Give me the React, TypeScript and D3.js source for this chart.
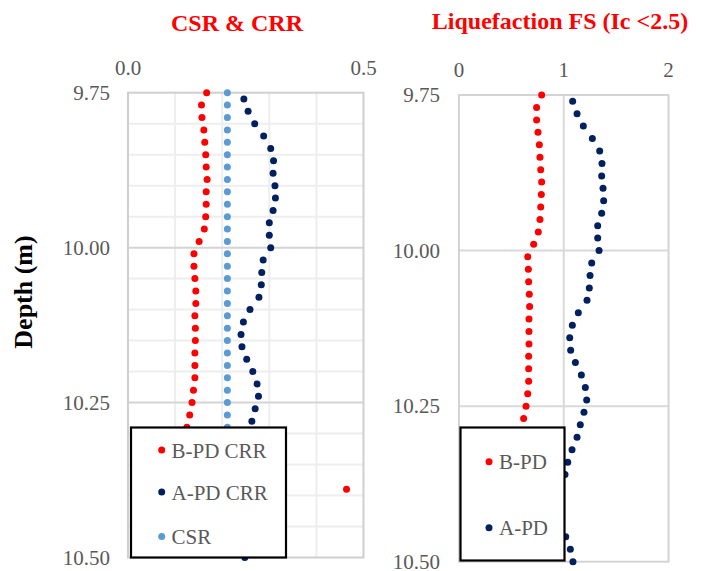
import React from "react";
import * as d3 from "d3";

// ---- CSR & CRR panel data ----
const bpdCrrDepth = [9.75, 9.77, 9.79, 9.81, 9.83, 9.85, 9.87, 9.89, 9.91, 9.93, 9.95, 9.97, 9.99, 10.01, 10.03, 10.05, 10.07, 10.09, 10.11, 10.13, 10.15, 10.17, 10.19, 10.21, 10.23, 10.25, 10.27, 10.29, 10.39];
const bpdCrr = [0.167, 0.156, 0.157, 0.161, 0.163, 0.165, 0.166, 0.168, 0.166, 0.166, 0.165, 0.162, 0.151, 0.140, 0.140, 0.142, 0.144, 0.144, 0.142, 0.143, 0.143, 0.142, 0.142, 0.142, 0.139, 0.136, 0.131, 0.125, 0.464];

const apdCrrDepth = [9.76, 9.78, 9.8, 9.82, 9.84, 9.86, 9.88, 9.9, 9.92, 9.94, 9.96, 9.98, 10.0, 10.02, 10.04, 10.06, 10.08, 10.1, 10.12, 10.14, 10.16, 10.18, 10.2, 10.22, 10.24, 10.26, 10.28, 10.5];
const apdCrr = [0.246, 0.255, 0.269, 0.288, 0.303, 0.309, 0.308, 0.312, 0.313, 0.308, 0.3, 0.3, 0.303, 0.287, 0.284, 0.283, 0.278, 0.259, 0.245, 0.24, 0.242, 0.252, 0.265, 0.274, 0.277, 0.27, 0.263, 0.248];

const csrDepth = [9.75, 9.77, 9.79, 9.81, 9.83, 9.85, 9.87, 9.89, 9.91, 9.93, 9.95, 9.97, 9.99, 10.01, 10.03, 10.05, 10.07, 10.09, 10.11, 10.13, 10.15, 10.17, 10.19, 10.21, 10.23, 10.25, 10.27, 10.29];
const csr = [0.211, 0.211, 0.211, 0.211, 0.211, 0.211, 0.211, 0.211, 0.211, 0.211, 0.211, 0.211, 0.211, 0.211, 0.211, 0.211, 0.211, 0.211, 0.211, 0.211, 0.211, 0.211, 0.211, 0.211, 0.211, 0.211, 0.211, 0.211];

// ---- Liquefaction FS panel data ----
const bpdFsDepth = [9.75, 9.77, 9.79, 9.81, 9.83, 9.85, 9.87, 9.89, 9.91, 9.93, 9.95, 9.97, 9.99, 10.01, 10.03, 10.05, 10.07, 10.09, 10.11, 10.13, 10.15, 10.17, 10.19, 10.21, 10.23, 10.25, 10.27];
const bpdFs = [0.789, 0.741, 0.741, 0.754, 0.767, 0.773, 0.78, 0.789, 0.786, 0.78, 0.773, 0.757, 0.713, 0.656, 0.662, 0.665, 0.671, 0.674, 0.668, 0.668, 0.668, 0.665, 0.665, 0.665, 0.656, 0.64, 0.617];

const apdFsDepth = [9.76, 9.78, 9.8, 9.82, 9.84, 9.86, 9.88, 9.9, 9.92, 9.94, 9.96, 9.98, 10.0, 10.02, 10.04, 10.06, 10.08, 10.1, 10.12, 10.14, 10.16, 10.18, 10.2, 10.22, 10.24, 10.26, 10.28, 10.3, 10.32, 10.34, 10.36, 10.46, 10.48, 10.5];
const apdFs = [1.085, 1.127, 1.187, 1.273, 1.343, 1.365, 1.362, 1.375, 1.381, 1.362, 1.324, 1.324, 1.337, 1.267, 1.251, 1.244, 1.222, 1.139, 1.082, 1.057, 1.066, 1.111, 1.168, 1.206, 1.219, 1.193, 1.158, 1.127, 1.079, 1.038, 1.012, 1.019, 1.063, 1.088];

// ---- axis ticks ----
const depthTicks = [9.75, 10.0, 10.25, 10.5];
const depthMinor = [9.8, 9.85, 9.9, 9.95, 10.05, 10.1, 10.15, 10.2, 10.3, 10.35, 10.4, 10.45];
const crrTicks = [0, 0.5];
const crrMinor = [0.1, 0.2, 0.3, 0.4];
const fsTicks = [0, 1, 2];

const RED = "#ff0000";
const NAVY = "#002060";
const LIGHT = "#5b9bd5";
const LABEL = "#595959";
const FONT = "Liberation Serif, Times New Roman, DejaVu Serif, serif";

function Dots({ xs, ys, x, y, color }: { xs: number[]; ys: number[]; x: d3.ScaleLinear<number, number>; y: d3.ScaleLinear<number, number>; color: string }) {
  return (
    <g>
      {xs.map((v, i) => (
        <circle key={i} cx={x(v)} cy={y(ys[i])} r={3.5} fill={color} />
      ))}
    </g>
  );
}

function T(props: any) {
  const { style, ...rest } = props;
  return <text {...rest} style={{ fontFamily: FONT, ...(style || {}) }} />;
}

export default function App() {
  // left panel scales
  const xL = d3.scaleLinear().domain([0, 0.5]).range([128, 363.5]);
  const yL = d3.scaleLinear().domain([9.75, 10.5]).range([92.7, 557.5]);
  // right panel scales
  const xR = d3.scaleLinear().domain([0, 2]).range([459, 668.5]);
  const yR = d3.scaleLinear().domain([9.75, 10.5]).range([95, 561.7]);

  const fmtDepth = d3.format(".2f");
  const fmtCrr = d3.format(".1f");

  return (
    <svg
      width={705}
      height={571}
      style={{ position: "absolute", left: 0, top: 0, background: "#fff", fontFamily: FONT }}
    >
      <rect width={705} height={571} fill="#fff" />

      {/* titles */}
      <T x={237} y={31} textAnchor="middle" fontSize={24} fontWeight="bold" fill={RED}>CSR &amp; CRR</T>
      <T x={560} y={28.5} textAnchor="middle" fontSize={24} fontWeight="bold" fill={RED}>Liquefaction FS (Ic &lt;2.5)</T>
      <T transform="translate(32,292) rotate(-90)" textAnchor="middle" fontSize={26} fontWeight="bold" fill="#000">Depth (m)</T>

      {/* ---- left panel grid ---- */}
      <g>
        {crrMinor.map((v) => (
          <line key={"cv" + v} x1={xL(v)} x2={xL(v)} y1={yL(9.75)} y2={yL(10.5)} stroke="#eeeeee" strokeWidth={2} />
        ))}
        {depthMinor.map((d) => (
          <line key={"ch" + d} x1={xL(0)} x2={xL(0.5)} y1={yL(d)} y2={yL(d)} stroke="#eeeeee" strokeWidth={2} />
        ))}
        {[10.0, 10.25].map((d) => (
          <line key={"cm" + d} x1={xL(0)} x2={xL(0.5)} y1={yL(d)} y2={yL(d)} stroke="#d4d4d4" strokeWidth={2} />
        ))}
        <rect x={xL(0)} y={yL(9.75)} width={xL(0.5) - xL(0)} height={yL(10.5) - yL(9.75)} fill="none" stroke="#cfcfcf" strokeWidth={2} />
      </g>
      {crrTicks.map((v) => (
        <T key={"ct" + v} x={xL(v)} y={75} textAnchor="middle" fontSize={21} fill={LABEL}>{fmtCrr(v)}</T>
      ))}
      {depthTicks.map((d) => (
        <T key={"cd" + d} x={110} y={yL(d) + 7} textAnchor="end" fontSize={21} fill={LABEL}>{fmtDepth(d)}</T>
      ))}

      <Dots xs={csr} ys={csrDepth} x={xL} y={yL} color={LIGHT} />
      <Dots xs={apdCrr} ys={apdCrrDepth} x={xL} y={yL} color={NAVY} />
      <Dots xs={bpdCrr} ys={bpdCrrDepth} x={xL} y={yL} color={RED} />

      {/* left legend */}
      <g>
        <rect x={131} y={427.5} width={155} height={130} fill="#fff" stroke="#000" strokeWidth={2.2} />
        {[
          { label: "B-PD CRR", color: RED, cy: 450 },
          { label: "A-PD CRR", color: NAVY, cy: 492 },
          { label: "CSR", color: LIGHT, cy: 536.5 },
        ].map((e) => (
          <g key={e.label}>
            <circle cx={161.7} cy={e.cy} r={3.5} fill={e.color} />
            <T x={171.5} y={e.cy + 7.5} fontSize={21} fill={LABEL}>{e.label}</T>
          </g>
        ))}
      </g>

      {/* ---- right panel grid ---- */}
      <g>
        <line x1={xR(1)} x2={xR(1)} y1={yR(9.75)} y2={yR(10.5)} stroke="#d9d9d9" strokeWidth={2} />
        {[10.0, 10.25].map((d) => (
          <line key={"fm" + d} x1={xR(0)} x2={xR(2)} y1={yR(d)} y2={yR(d)} stroke="#d9d9d9" strokeWidth={2} />
        ))}
        <rect x={xR(0)} y={yR(9.75)} width={xR(2) - xR(0)} height={yR(10.5) - yR(9.75)} fill="none" stroke="#d4d4d4" strokeWidth={2} />
      </g>
      {fsTicks.map((v) => (
        <T key={"ft" + v} x={xR(v)} y={76.5} textAnchor="middle" fontSize={21} fill={LABEL}>{v}</T>
      ))}
      {depthTicks.map((d) => (
        <T key={"fd" + d} x={440} y={yR(d) + 7} textAnchor="end" fontSize={21} fill={LABEL}>{fmtDepth(d)}</T>
      ))}

      <Dots xs={apdFs} ys={apdFsDepth} x={xR} y={yR} color={NAVY} />
      <Dots xs={bpdFs} ys={bpdFsDepth} x={xR} y={yR} color={RED} />

      {/* right legend */}
      <g>
        <rect x={460.5} y={427.5} width={104} height={133} fill="#fff" stroke="#000" strokeWidth={2.2} />
        {[
          { label: "B-PD", color: RED, cy: 461.7 },
          { label: "A-PD", color: NAVY, cy: 527.7 },
        ].map((e) => (
          <g key={e.label}>
            <circle cx={489} cy={e.cy} r={3.5} fill={e.color} />
            <T x={499} y={e.cy + 7.5} fontSize={21} fill={LABEL}>{e.label}</T>
          </g>
        ))}
      </g>
    </svg>
  );
}
